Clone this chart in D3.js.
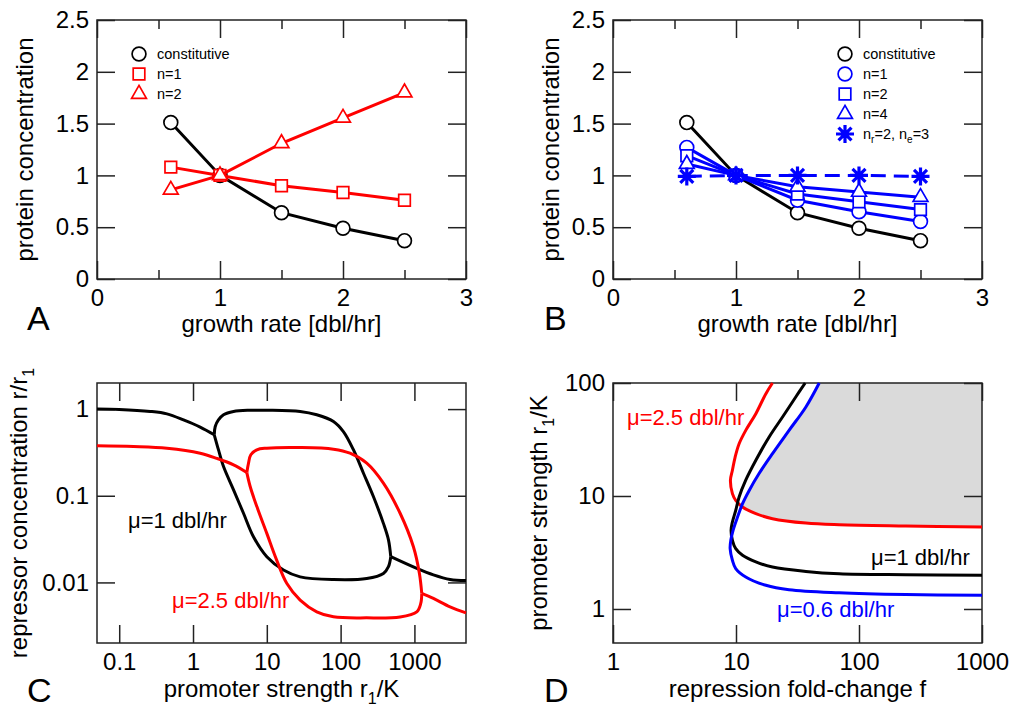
<!DOCTYPE html>
<html>
<head>
<meta charset="utf-8">
<script src="https://cdn.jsdelivr.net/npm/d3@7"></script>
<style>
  body { margin: 0; background: #fff; }
  text { font-family: "Liberation Sans", Arial, Helvetica, sans-serif; }
</style>
</head>
<body>
<svg id="fig" width="1012" height="709"></svg>
<script>
// ---- panels A and B: protein concentration vs growth rate
var rates = [0.6, 1.0, 1.5, 2.0, 2.5];
var constitutive = [1.51, 1.0, 0.64, 0.49, 0.37];
var aN1 = [1.08, 1.0, 0.90, 0.835, 0.76];
var aN2 = [0.86, 1.0, 1.31, 1.555, 1.80];
var bN1 = [1.27, 1.0, 0.76, 0.65, 0.555];
var bN2 = [1.19, 1.0, 0.82, 0.745, 0.67];
var bN4 = [1.11, 1.0, 0.89, 0.84, 0.79];
var bMixed = [0.99, 1.0, 1.0, 1.0, 0.99];

var rateTicks = [0, 1, 2, 3];
var rateMinor = [0.5, 1.5, 2.5];
var concTicks = [0, 0.5, 1, 1.5, 2, 2.5];

// ---- panel C: repressor concentration vs promoter strength (log-log)
var cTicksX = [0.1, 1, 10, 100, 1000];
var cTicksY = [1, 0.1, 0.01];
var cBlackLeft = [[0.05, 1.0], [0.1, 0.99], [0.263, 0.94], [0.443, 0.88], [0.743, 0.75], [1.25, 0.62], [1.94, 0.505]];
var cBlackUpper = [[1.94, 0.505], [2.0, 0.63], [2.21, 0.75], [2.59, 0.86], [3.54, 0.94], [5.95, 0.97], [10, 0.97],
  [28.3, 0.94], [47.5, 0.86], [80, 0.72], [109, 0.55], [149, 0.34], [204, 0.182], [278, 0.098], [380, 0.048],
  [445, 0.031], [478, 0.0198]];
var cBlackLower = [[1.94, 0.505], [2.21, 0.34], [2.59, 0.217], [3.54, 0.117], [4.83, 0.0628], [6.59, 0.0337],
  [10, 0.0198], [16.8, 0.0139], [28.3, 0.0116], [80, 0.0108], [226, 0.0111], [380, 0.0127], [445, 0.0152], [478, 0.0198]];
var cBlackTail = [[478, 0.0198], [1076, 0.0145], [1808, 0.0122], [3040, 0.0108], [5000, 0.0105]];
var cRedLeft = [[0.05, 0.377], [0.156, 0.37], [0.443, 0.354], [1.25, 0.31], [2.1, 0.27], [3.54, 0.227], [5.36, 0.185]];
var cRedUpper = [[5.36, 0.185], [5.65, 0.238], [6.07, 0.297], [7.33, 0.339], [10, 0.354], [28.3, 0.36], [80, 0.345],
  [134, 0.31], [226, 0.238], [380, 0.14], [640, 0.0628], [969, 0.0258], [1169, 0.0127], [1257, 0.00746]];
var cRedLower = [[5.36, 0.185], [5.95, 0.128], [7.33, 0.075], [10, 0.0368], [13.6, 0.0181], [18.7, 0.0097],
  [28.3, 0.00625], [47.5, 0.00458], [80, 0.00401], [226, 0.0039], [640, 0.004], [1076, 0.00458], [1219, 0.00572], [1257, 0.00746]];
var cRedTail = [[1257, 0.00746], [1808, 0.00653], [3040, 0.00523], [5000, 0.00446]];

// ---- panel D: promoter strength vs repression fold-change (log-log)
var dTicksX = [1, 10, 100, 1000];
var dTicksY = [1, 10, 100];
var dRed = [[19.8, 100], [17.5, 80.5], [14.5, 53.5], [12.0, 38.1], [10.6, 29.0], [9.84, 22.1], [9.35, 16.9], [9.01, 13.8],
  [9.35, 10.5], [9.95, 9.16], [11.3, 8.0], [14.5, 6.98], [19.8, 6.3], [37, 5.76], [69, 5.57], [240, 5.43], [1000, 5.32]];
var dBlack = [[36.5, 100], [30.6, 75.2], [23.9, 50], [18.6, 33.3], [14.5, 20.7], [12.0, 13.8], [10.6, 9.8], [9.95, 7.46],
  [9.35, 5.89], [9.12, 4.97], [9.35, 4.05], [9.95, 3.42], [11.3, 2.99], [14.5, 2.61], [19.8, 2.35], [37, 2.15],
  [69, 2.05], [240, 2.01], [1000, 1.99]];
var dBlue = [[47.5, 100], [37, 61.4], [27, 38.1], [19.8, 23.7], [15.4, 15.8], [12.8, 11.2], [11.3, 8.55], [10.3, 6.52],
  [9.47, 4.97], [9.07, 4.05], [8.96, 3.42], [9.35, 2.7], [9.95, 2.28], [12.0, 1.92], [17.5, 1.62], [27, 1.48],
  [69, 1.39], [240, 1.34], [1000, 1.32]];

var RED = "#ff0000", BLUE = "#0000ff", BLACK = "#000000";
var svg = d3.select("#fig");

function axes(g, x, y, w, h, xt, yt, xm) {
  var fmt = function(d) { return String(d); };
  var blank = function() { return ""; };
  function style(s) {
    s.select(".domain").remove();
    s.attr("font-family", null).attr("font-size", null);
    s.selectAll("line").attr("stroke", "#222").attr("stroke-width", 1.5);
    s.selectAll("text").attr("fill", "#000").style("font-size", "24px");
  }
  g.append("g").attr("transform", "translate(0," + h + ")")
    .call(d3.axisBottom(x).tickValues(xt).tickFormat(fmt).tickSizeInner(-18).tickSizeOuter(0).tickPadding(10)).call(style);
  g.append("g")
    .call(d3.axisTop(x).tickValues(xt).tickFormat(blank).tickSizeInner(-18).tickSizeOuter(0)).call(style);
  g.append("g")
    .call(d3.axisLeft(y).tickValues(yt).tickFormat(fmt).tickSizeInner(-18).tickSizeOuter(0).tickPadding(8)).call(style);
  g.append("g").attr("transform", "translate(" + w + ",0)")
    .call(d3.axisRight(y).tickValues(yt).tickFormat(blank).tickSizeInner(-18).tickSizeOuter(0)).call(style);
  if (xm) {
    g.append("g").attr("transform", "translate(0," + h + ")")
      .call(d3.axisBottom(x).tickValues(xm).tickFormat(blank).tickSizeInner(-9).tickSizeOuter(0)).call(style);
    g.append("g")
      .call(d3.axisTop(x).tickValues(xm).tickFormat(blank).tickSizeInner(-9).tickSizeOuter(0)).call(style);
  }
  g.append("rect").attr("width", w).attr("height", h)
    .attr("fill", "none").attr("stroke", "#222").attr("stroke-width", 1.5);
}

// markers
function marker(g, type, cx, cy, color) {
  var m = g.append("g").attr("transform", "translate(" + cx + "," + cy + ")");
  if (type === "star") {
    var r = 9;
    m.append("path")
      .attr("d", "M0," + (-r) + "V" + r + "M" + (-r) + ",0H" + r +
        "M" + (-r * 0.72) + "," + (-r * 0.72) + "L" + (r * 0.72) + "," + (r * 0.72) +
        "M" + (-r * 0.72) + "," + (r * 0.72) + "L" + (r * 0.72) + "," + (-r * 0.72))
      .attr("stroke", color).attr("stroke-width", 3.2).attr("fill", "none");
    return;
  }
  var sym = { circle: d3.symbolCircle, square: d3.symbolSquare, triangle: d3.symbolTriangle }[type];
  var size = { circle: 150, square: 135, triangle: 95 }[type];
  m.append("path").attr("d", d3.symbol().type(sym).size(size)())
    .attr("fill", "#fff").attr("stroke", color).attr("stroke-width", 1.7);
}

function series(g, x, y, xs, ys, color, type, dash) {
  var pts = xs.map(function(v, i) { return [v, ys[i]]; });
  g.append("path").datum(pts)
    .attr("d", d3.line().x(function(d) { return x(d[0]); }).y(function(d) { return y(d[1]); }))
    .attr("fill", "none").attr("stroke", color).attr("stroke-width", 3)
    .attr("stroke-dasharray", dash || null);
  pts.forEach(function(d) { marker(g, type, x(d[0]), y(d[1]), color); });
}

function legend(g, x0, y0, items) {
  items.forEach(function(it, i) {
    var cy = y0 + i * 20;
    marker(g, it.type, x0, cy, it.color);
    var t = g.append("text").attr("x", x0 + 18).attr("y", cy + 5).style("font-size", "14.5px").attr("fill", "#000");
    it.label.forEach(function(p) {
      if (p.sub) t.append("tspan").attr("dy", 4).style("font-size", "10px").text(p.sub);
      else t.append("tspan").attr("dy", p.up ? -4 : 0).text(p.t);
    });
  });
}

function letter(txt, x, y) {
  svg.append("text").attr("x", x).attr("y", y).style("font-size", "34px").text(txt);
}

function xTitle(parts, cx, y) {
  var t = svg.append("text").attr("x", cx).attr("y", y).attr("text-anchor", "middle").style("font-size", "24px");
  parts.forEach(function(p) {
    if (p.sub) t.append("tspan").attr("dy", 7).style("font-size", "16px").text(p.sub);
    else t.append("tspan").attr("dy", p.up ? -7 : 0).text(p.t);
  });
}

function yTitle(parts, bx, cy) {
  var t = svg.append("text").attr("transform", "translate(" + bx + "," + cy + ") rotate(-90)")
    .attr("text-anchor", "middle").style("font-size", "24px");
  parts.forEach(function(p) {
    if (p.sub) t.append("tspan").attr("dy", 7).style("font-size", "16px").text(p.sub);
    else t.append("tspan").attr("dy", p.up ? -7 : 0).text(p.t);
  });
}

// ---------- panel A
(function() {
  var L = 97, T = 20, W = 369, H = 259;
  var g = svg.append("g").attr("transform", "translate(" + L + "," + T + ")");
  var x = d3.scaleLinear().domain([0, 3]).range([0, W]);
  var y = d3.scaleLinear().domain([0, 2.5]).range([H, 0]);
  axes(g, x, y, W, H, rateTicks, concTicks, rateMinor);
  series(g, x, y, rates, constitutive, BLACK, "circle");
  series(g, x, y, rates, aN1, RED, "square");
  series(g, x, y, rates, aN2, RED, "triangle");
  legend(g, 42, 34, [
    { type: "circle", color: BLACK, label: [{ t: "constitutive" }] },
    { type: "square", color: RED, label: [{ t: "n=1" }] },
    { type: "triangle", color: RED, label: [{ t: "n=2" }] }
  ]);
  letter("A", 27, 330);
  xTitle([{ t: "growth rate [dbl/hr]" }], L + W / 2, 332);
  yTitle([{ t: "protein concentration" }], 33, T + H / 2);
})();

// ---------- panel B
(function() {
  var L = 613, T = 20, W = 369, H = 259;
  var g = svg.append("g").attr("transform", "translate(" + L + "," + T + ")");
  var x = d3.scaleLinear().domain([0, 3]).range([0, W]);
  var y = d3.scaleLinear().domain([0, 2.5]).range([H, 0]);
  axes(g, x, y, W, H, rateTicks, concTicks, rateMinor);
  series(g, x, y, rates, constitutive, BLACK, "circle");
  series(g, x, y, rates, bN1, BLUE, "circle");
  series(g, x, y, rates, bN2, BLUE, "square");
  series(g, x, y, rates, bN4, BLUE, "triangle");
  series(g, x, y, rates, bMixed, BLUE, "star", "15,8");
  legend(g, 232, 34, [
    { type: "circle", color: BLACK, label: [{ t: "constitutive" }] },
    { type: "circle", color: BLUE, label: [{ t: "n=1" }] },
    { type: "square", color: BLUE, label: [{ t: "n=2" }] },
    { type: "triangle", color: BLUE, label: [{ t: "n=4" }] },
    { type: "star", color: BLUE, label: [{ t: "n" }, { sub: "r" }, { t: "=2, n", up: true }, { sub: "e" }, { t: "=3", up: true }] }
  ]);
  letter("B", 544, 330);
  xTitle([{ t: "growth rate [dbl/hr]" }], L + W / 2, 332);
  yTitle([{ t: "protein concentration" }], 559, T + H / 2);
})();

// ---------- panel C
(function() {
  var L = 97, T = 383, W = 369, H = 260;
  var g = svg.append("g").attr("transform", "translate(" + L + "," + T + ")");
  var x = d3.scaleLog().domain([0.05, 5000]).range([0, W]);
  var y = d3.scaleLog().domain([0.002, 2]).range([H, 0]);
  axes(g, x, y, W, H, cTicksX, cTicksY);
  var line = d3.line().x(function(d) { return x(d[0]); }).y(function(d) { return y(d[1]); })
    .curve(d3.curveCatmullRom.alpha(0.5));
  [[cBlackLeft, BLACK], [cBlackUpper, BLACK], [cBlackLower, BLACK], [cBlackTail, BLACK],
   [cRedLeft, RED], [cRedUpper, RED], [cRedLower, RED], [cRedTail, RED]].forEach(function(c) {
    g.append("path").datum(c[0]).attr("d", line)
      .attr("fill", "none").attr("stroke", c[1]).attr("stroke-width", 3).attr("stroke-linejoin", "round");
  });
  g.append("text").attr("x", 31).attr("y", 145).style("font-size", "22px").attr("fill", BLACK).text("μ=1 dbl/hr");
  g.append("text").attr("x", 75).attr("y", 225).style("font-size", "22px").attr("fill", RED).text("μ=2.5 dbl/hr");
  letter("C", 27, 702);
  xTitle([{ t: "promoter strength r" }, { sub: "1" }, { t: "/K", up: true }], L + W / 2, 697);
  yTitle([{ t: "repressor concentration r/r" }, { sub: "1" }], 27, T + H / 2);
})();

// ---------- panel D
(function() {
  var L = 613, T = 383, W = 369, H = 260;
  var g = svg.append("g").attr("transform", "translate(" + L + "," + T + ")");
  var x = d3.scaleLog().domain([1, 1000]).range([0, W]);
  var y = d3.scaleLog().domain([0.5, 100]).range([H, 0]);
  var line = d3.line().x(function(d) { return x(d[0]); }).y(function(d) { return y(d[1]); })
    .curve(d3.curveCatmullRom.alpha(0.5));
  var corner = "L" + x(1000) + "," + y(100) + "Z";
  g.append("clipPath").attr("id", "blueSide")
    .append("path").attr("d", line(dBlue) + corner);
  g.append("path").attr("d", line(dRed) + corner)
    .attr("fill", "#dadada").attr("clip-path", "url(#blueSide)");
  axes(g, x, y, W, H, dTicksX, dTicksY);
  [[dRed, RED], [dBlack, BLACK], [dBlue, BLUE]].forEach(function(c) {
    g.append("path").datum(c[0]).attr("d", line)
      .attr("fill", "none").attr("stroke", c[1]).attr("stroke-width", 3).attr("stroke-linejoin", "round");
  });
  g.append("text").attr("x", 14).attr("y", 42).style("font-size", "22px").attr("fill", RED).text("μ=2.5 dbl/hr");
  g.append("text").attr("x", 258).attr("y", 182).style("font-size", "22px").attr("fill", BLACK).text("μ=1 dbl/hr");
  g.append("text").attr("x", 164).attr("y", 234).style("font-size", "22px").attr("fill", BLUE).text("μ=0.6 dbl/hr");
  letter("D", 544, 702);
  xTitle([{ t: "repression fold-change f" }], L + W / 2, 697);
  yTitle([{ t: "promoter strength r" }, { sub: "1" }, { t: "/K", up: true }], 547, T + H / 2);
})();
</script>
</body>
</html>
